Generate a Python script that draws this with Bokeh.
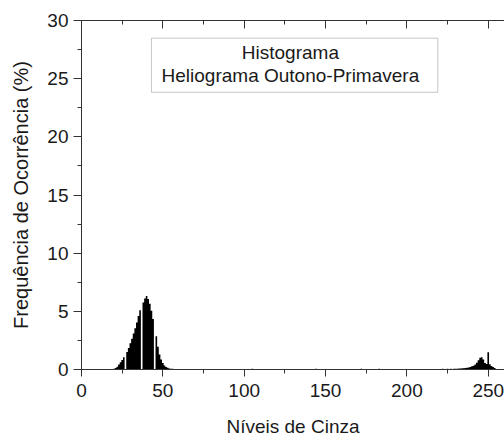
from bokeh.plotting import figure
from bokeh.models import SingleIntervalTicker, LinearAxis, Range1d, BoxAnnotation, Label
from bokeh.embed import file_html
from bokeh.resources import INLINE

# ---- data -------------------------------------------------------------
levels = list(range(256))

freq_dark = [0.0] * 18 + [
    0.01, 0.03, 0.06, 0.12, 0.24, 0.42, 0.62, 0.82, 1.05, 0.0,   # 18-27
    1.50, 1.85, 2.25, 2.65, 3.10, 3.55, 4.05, 4.60, 5.10, 0.0,   # 28-37
    5.75, 6.10, 6.32, 6.05, 5.65, 5.05, 4.35, 0.0, 2.85, 1.95,   # 38-47
    1.30, 0.85, 0.55, 0.35, 0.22, 0.14, 0.09, 0.07, 0.06, 0.05,  # 48-57
    0.05, 0.04, 0.04,                                            # 58-60
]

freq_mid = [                                                     # 61-229
    0.05, 0.04, 0.05, 0.04, 0.04, 0.05, 0.03, 0.04, 0.04, 0.03, 0.05, 0.03, 0.04,
    0.04, 0.03, 0.03, 0.05, 0.03, 0.04, 0.02, 0.04, 0.03, 0.05, 0.03, 0.02, 0.04,
    0.03, 0.05, 0.03, 0.02, 0.04, 0.03, 0.05, 0.04, 0.02, 0.03, 0.04, 0.05, 0.03,
    0.04, 0.03, 0.05, 0.04, 0.03, 0.06, 0.04, 0.03, 0.05, 0.04, 0.03, 0.05, 0.04,
    0.03, 0.05, 0.04, 0.02, 0.04, 0.05, 0.03, 0.04, 0.03, 0.05, 0.04, 0.03, 0.04,
    0.05, 0.03, 0.04, 0.03, 0.05, 0.04, 0.03, 0.05, 0.03, 0.04, 0.05, 0.03, 0.04,
    0.03, 0.05, 0.04, 0.03, 0.04, 0.06, 0.03, 0.04, 0.05, 0.03, 0.04, 0.03, 0.05,
    0.04, 0.03, 0.05, 0.04, 0.03, 0.04, 0.05, 0.03, 0.04, 0.05, 0.03, 0.04, 0.05,
    0.03, 0.04, 0.05, 0.04, 0.03, 0.05, 0.04, 0.06, 0.03, 0.04, 0.05, 0.04, 0.03,
    0.05, 0.04, 0.03, 0.05, 0.04, 0.06, 0.04, 0.03, 0.05, 0.04, 0.05, 0.03, 0.04,
    0.05, 0.04, 0.03, 0.05, 0.04, 0.05, 0.03, 0.04, 0.05, 0.04, 0.03, 0.05, 0.04,
    0.04, 0.05, 0.03, 0.04, 0.05, 0.04, 0.05, 0.03, 0.04, 0.05, 0.04, 0.05, 0.04,
    0.05, 0.04, 0.05, 0.05, 0.04, 0.06, 0.05, 0.04, 0.06, 0.05, 0.06, 0.05, 0.06,
]

freq_bright = [                                                  # 230-255
    0.06, 0.07, 0.08, 0.09, 0.10, 0.11, 0.13, 0.15, 0.18, 0.22,
    0.27, 0.33, 0.42, 0.58, 0.80, 1.00, 1.06, 0.85, 0.55, 0.48,
    1.48, 0.45, 0.30, 0.22, 0.12, 0.04,
]

freq = freq_dark + freq_mid + freq_bright

x_ticks_interval = 50
y_ticks_interval = 5
title_lines = ["Histograma", "Heliograma Outono-Primavera"]
x_title = "Níveis de Cinza"
y_title = "Frequência de Ocorrência (%)"

# ---- figure -------------------------------------------------------------
FONT = "Liberation Sans"
AX = "#333333"
TXT = "#1a1a1a"

p = figure(width=504, height=440, output_backend="svg", toolbar_location=None,
           x_range=Range1d(0, 260), y_range=Range1d(0, 30),
           min_border_left=81, min_border_right=0, min_border_top=20,
           min_border_bottom=71, x_axis_label=x_title, y_axis_label=y_title)
p.outline_line_color = None
p.grid.visible = False
p.background_fill_color = "white"
p.border_fill_color = "white"

# histogram bins drawn as one filled step area (one bin per grey level)
p.varea_step(x=levels[:len(freq)], y1=[0.0] * len(freq), y2=freq,
             step_mode="center", fill_color="black")

xt = SingleIntervalTicker(interval=x_ticks_interval, num_minor_ticks=2)
yt = SingleIntervalTicker(interval=y_ticks_interval, num_minor_ticks=2)

xa = p.xaxis[0]
xa.ticker = xt
xa.major_tick_out = 7
xa.major_tick_in = 0
xa.minor_tick_out = 4
xa.minor_tick_in = 0
xa.major_label_standoff = 7
xa.axis_label_standoff = 16

ya = p.yaxis[0]
ya.ticker = yt
ya.major_tick_out = 8
ya.major_tick_in = 0
ya.minor_tick_out = 4
ya.minor_tick_in = 0
ya.major_label_standoff = 5
ya.axis_label_standoff = 12

for ax in (xa, ya):
    ax.axis_line_color = AX
    ax.major_tick_line_color = AX
    ax.minor_tick_line_color = AX
    ax.major_label_text_font = FONT
    ax.major_label_text_font_size = "19px"
    ax.major_label_text_color = TXT
    ax.axis_label_text_font = FONT
    ax.axis_label_text_font_size = "19px"
    ax.axis_label_text_font_style = "normal"
    ax.axis_label_text_color = TXT
ya.axis_label_text_font_size = "20px"

top = LinearAxis(ticker=SingleIntervalTicker(interval=x_ticks_interval, num_minor_ticks=2))
top.major_tick_in = 8
top.major_tick_out = 0
top.minor_tick_in = 4
top.minor_tick_out = 0
top.major_label_text_font_size = "0px"
top.major_label_text_color = None
top.major_label_standoff = 0
top.axis_line_color = AX
top.major_tick_line_color = AX
top.minor_tick_line_color = AX
p.add_layout(top, "above")

# legend-like title box
p.add_layout(BoxAnnotation(left=43, right=219, top=28.48, bottom=23.83,
                           fill_color="white", fill_alpha=1.0,
                           line_color="#444444", line_width=1))
p.add_layout(Label(x=128.4, y=27.26, text=title_lines[0],
                   text_align="center", text_baseline="middle",
                   text_font=FONT, text_font_size="19px", text_color=TXT))
p.add_layout(Label(x=128.4, y=25.29, text=title_lines[1],
                   text_align="center", text_baseline="middle",
                   text_font=FONT, text_font_size="19px", text_color=TXT))

open("out.html", "w").write(file_html(p, INLINE))
